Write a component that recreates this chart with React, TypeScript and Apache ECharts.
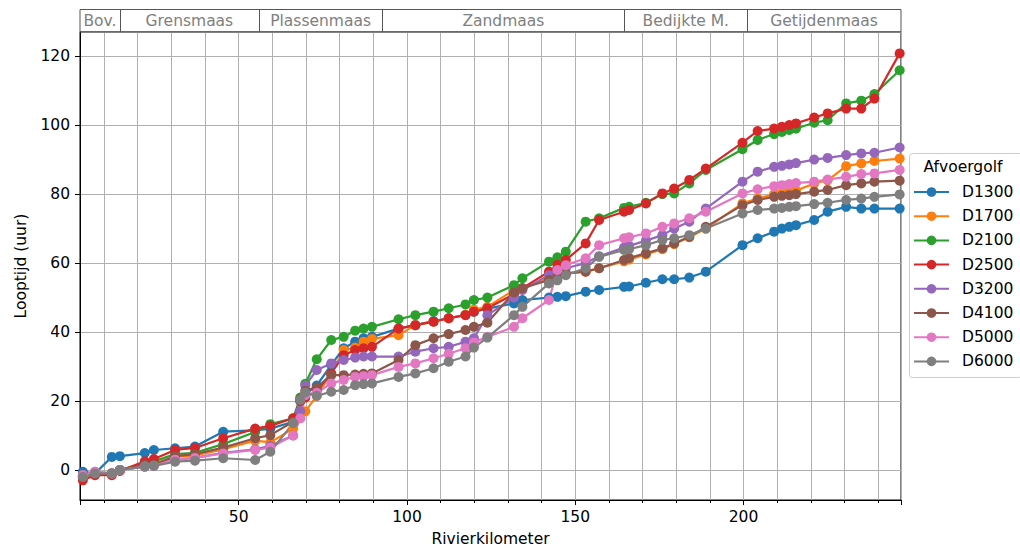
import React, { useEffect, useRef } from "react";
import * as echarts from "echarts";

const FONT = "DejaVu Sans";

// river kilometre of each measuring point (shared by all series)
const km = [
  3.7, 7.3, 12.3, 14.7, 22.1, 24.8, 31.1, 37.0, 45.4, 54.9, 59.4,
  66.2, 68.3, 69.8, 73.2,
  77.5, 81.2, 84.6, 87.1, 89.6,
  97.5, 102.5, 107.9, 112.4, 117.4, 119.9, 123.9,
  131.8, 134.3, 142.2, 144.7, 147.2,
  153.1, 157.1, 164.5, 166.0, 171.0, 175.9, 179.4, 183.9, 188.8,
  199.7, 204.2, 209.1, 211.4, 213.6, 215.6, 221.0, 225.0, 230.5, 235.0, 238.9, 246.4,
];

const seriesNames = ["D1300", "D1700", "D2100", "D2500", "D3200", "D4100", "D5000", "D6000"];
const colors = ["#1f77b4", "#ff7f0e", "#2ca02c", "#d62728", "#9467bd", "#8c564b", "#e377c2", "#7f7f7f"];

const d1300 = [
  -0.5, -1, 3.8, 4, 4.9, 5.8, 6.3, 6.8, 11.1, 11.5, 12,
  14, 20, 22, 24.5,
  30.5, 35.3, 37.2, 38.2, 38.6,
  41, 42, 43.2, 44, 45, 45.9, 46.8,
  48.3, 49.3, 50, 50.2, 50.4,
  51.7, 52.2, 53.1, 53.2, 54.3, 55.3, 55.3, 55.8, 57.5,
  65.2, 67.2, 69.1, 70, 70.5, 71, 72.5, 74.9, 76.3, 75.8, 75.8, 75.8,
];
const d1700 = [
  -1.5, -1, -1, 0, 1.5, 1.8, 3.8, 4.2, 6, 8.5, 8,
  12, 15, 17, 21.5,
  28, 34.8, 35.5, 37.2, 38,
  39.1, 42, 43, 44, 45, 46.5, 47.3,
  52.2, 52.7, 55.6, 56.5, 57,
  57.5, 58.5, 60.5, 61, 62.5, 64, 65.5, 67.5, 70,
  77.3, 78.7, 80, 80.3, 80.7, 81, 83.1, 84, 88.1, 88.9, 89.6, 90.3,
];
const d2100 = [
  -2, -1, -1, 0, 2, 2.5, 4.6, 5, 7.5, 11, 13.3,
  15, 21, 25, 32.1,
  37.7, 38.6, 40.4, 41, 41.5,
  43.7, 44.9, 45.9, 46.9, 48, 49.3, 50,
  53.6, 55.6, 60.4, 61.7, 63.3,
  72, 73, 76, 76.3, 77.5, 80, 80.2, 83.1, 87,
  93, 95.7, 97.4, 98, 98.6, 99, 100.7, 101.4, 106.3, 107.1, 109, 115.9,
];
const d2500 = [
  -3, -1.5, -1.5, -0.3, 2.5, 3.2, 5.8, 6.4, 9.2, 12, 12.8,
  15, 20, 21, 23,
  28, 33.3, 34.8, 35.3, 35.7,
  41, 42, 43, 44, 44.9, 45.9, 46.9,
  51, 52.7, 57.5, 59.5, 60.9,
  65.7, 72.5, 74.9, 75.4, 77.3, 80.2, 81.6, 84.1, 87.4,
  94.9, 98.3, 99, 99.5, 100, 100.5, 102.2, 103.4, 104.8, 104.8, 107.7, 120.8,
];
const d3200 = [
  -1.5, -0.5, -1, 0, 1, 1.2, 3, 3.5, 5, 6, 7,
  10, 17, 24.5, 29,
  30.9, 31.9, 32.6, 32.9, 32.9,
  32.9, 34.3, 35.3, 35.7, 37.2, 38.2, 44.9,
  50, 52.2, 56.5, 57.5, 58.5,
  60, 62, 64.5, 65, 66.5, 68.1, 70, 72, 75.8,
  83.6, 86.5, 87.9, 88.2, 88.6, 89, 90, 90.5, 91.3, 91.8, 92, 93.5,
];
const d4100 = [
  -2, -1, -1, 0, 1.5, 1.5, 4, 4.6, 6.5, 9.2, 10.1,
  14, 20.5, 23, 24,
  27.5, 27.5, 27.7, 27.9, 28,
  31.9, 36.2, 38.2, 39.4, 40.6, 41.5, 42.7,
  51.5, 52.7, 55.1, 56, 57,
  57.5, 58.5, 60.9, 61.5, 62.8, 64.3, 65.7, 67.6, 70.5,
  76.8, 78.3, 79.2, 79.5, 79.7, 80, 80.7, 81.2, 82.6, 83.1, 83.6, 83.9,
];
const d5000 = [
  -1.5, -0.5, -1, 0, 1, 1.2, 3, 3.5, 4.8, 5.8, 6.5,
  10, 15, 21.7, 22.4,
  25.1, 26.1, 27, 27.2, 27.5,
  29.9, 30.9, 32.4, 33.7, 35.3, 37, 38.6,
  41.5, 44, 49.3, 58, 59.4,
  61.4, 65.2, 67.2, 67.5, 68.6, 70.5, 71.5, 73, 74.9,
  80.2, 81.4, 82.3, 82.6, 82.9, 83.2, 83.6, 84.2, 85, 85.8, 86, 87,
];
const d6000 = [
  -2, -1, -1, 0, 1, 1.2, 2.4, 2.7, 3.4, 2.9, 5.3,
  13.6, 20.3, 22.5, 21.5,
  22.7, 23.2, 24.6, 24.9, 25.1,
  27, 28, 29.5, 31.4, 32.9, 35.5, 38.4,
  44.9, 47.3, 54.1, 55, 56.5,
  58.5, 61.8, 63.8, 64, 65.2, 66.7, 67.2, 68.1, 70,
  74.4, 75.4, 75.8, 76, 76.3, 76.5, 77.1, 77.5, 78.3, 78.7, 79.2, 79.9,
];
const seriesValues = [d1300, d1700, d2100, d2500, d3200, d4100, d5000, d6000];

// river sections shown in the band above the plot
const sectionNames = ["Bov.", "Grensmaas", "Plassenmaas", "Zandmaas", "Bedijkte M.", "Getijdenmaas"];
const sectionEdges = [2.85, 14.7, 56.0, 92.7, 164.6, 201.1, 246.8];

const xMin = 2.85;
const xMax = 246.8;
const yMin = -8.7;
const yMax = 127;

export default function App() {
  const ref = useRef<HTMLDivElement>(null);

  useEffect(() => {
    if (!ref.current) return;
    const chart = echarts.init(ref.current, null, { renderer: "svg" });
    const fs = 15.5;
    const option: any = {
      animation: false,
      textStyle: { fontFamily: FONT },
      grid: {
        left: 80,
        top: 32,
        width: 821,
        height: 468,
        show: true,
        borderColor: "#000",
        borderWidth: 1,
        backgroundColor: "transparent",
      },
      xAxis: {
        type: "value",
        min: xMin,
        max: xMax,
        splitNumber: 5,
        minInterval: 50,
        maxInterval: 50,
        name: "Rivierkilometer",
        nameLocation: "middle",
        nameGap: 31,
        nameTextStyle: { fontSize: fs, color: "#000", fontFamily: FONT },
        axisLine: { show: true, onZero: false, lineStyle: { color: "#000" } },
        axisTick: { show: true, inside: false, length: 5, lineStyle: { color: "#000" } },
        minorTick: { show: true, splitNumber: 5, length: 3, lineStyle: { color: "#000" } },
        axisLabel: {
          fontSize: fs,
          color: "#000",
          margin: 9,
          fontFamily: FONT,
          showMinLabel: false,
          showMaxLabel: false,
        },
        splitLine: { show: true, lineStyle: { color: "#b0b0b0", width: 1 } },
        minorSplitLine: { show: true, lineStyle: { color: "#b0b0b0", width: 1 } },
      },
      yAxis: {
        type: "value",
        min: yMin,
        max: yMax,
        splitNumber: 6,
        minInterval: 20,
        maxInterval: 20,
        name: "Looptijd (uur)",
        nameLocation: "middle",
        nameGap: 51,
        nameTextStyle: { fontSize: fs, color: "#000", fontFamily: FONT },
        axisLine: { show: true, onZero: false, lineStyle: { color: "#000" } },
        axisTick: { show: true, inside: false, length: 5, lineStyle: { color: "#000" } },
        axisLabel: {
          fontSize: fs,
          color: "#000",
          margin: 10,
          fontFamily: FONT,
          showMinLabel: false,
          showMaxLabel: false,
        },
        splitLine: { show: true, lineStyle: { color: "#b0b0b0", width: 1 } },
      },
      legend: {
        orient: "vertical",
        left: 913,
        top: 183,
        itemWidth: 35,
        itemHeight: 12,
        itemGap: 6.2,
        padding: 0,
        textStyle: { fontSize: fs, color: "#000", fontFamily: FONT, lineHeight: 18, padding: [0, 0, 0, 8] },
        data: seriesNames,
      },
      series: seriesNames.map((name, i) => ({
        name,
        type: "line",
        data: km.map((k, j) => [k, seriesValues[i][j]]),
        symbol: "circle",
        symbolSize: 10,
        showSymbol: true,
        color: colors[i],
        itemStyle: { color: colors[i] },
        lineStyle: { color: colors[i], width: 2.2 },
        emphasis: { disabled: true },
        clip: true,
      })),
    };
    chart.setOption(option);

    const px = (v: number) => chart.convertToPixel({ xAxisIndex: 0 }, v) as number;
    const bandTop = 9;
    const bandBottom = 32;
    const left = px(sectionEdges[0]);
    const right = px(sectionEdges[sectionEdges.length - 1]);
    const graphic: any[] = [
      {
        type: "rect",
        z: 1,
        shape: { x: 909.5, y: 153.5, width: 112, height: 224, r: 3 },
        style: { fill: "rgba(255,255,255,0.85)", stroke: "#cccccc", lineWidth: 1 },
      },
      {
        type: "text",
        z: 5,
        x: 963,
        y: 167,
        style: {
          text: "Afvoergolf",
          fontSize: fs,
          fontFamily: FONT,
          fill: "#000",
          textAlign: "center",
          textVerticalAlign: "middle",
        },
      },
      {
        type: "rect",
        z: 1,
        shape: { x: left, y: bandTop + 0.5, width: right - left, height: bandBottom - bandTop - 0.5 },
        style: { fill: "none", stroke: "#555", lineWidth: 1 },
      },
    ];
    for (let i = 1; i < sectionEdges.length - 1; i++) {
      const x = Math.round(px(sectionEdges[i])) + 0.5;
      graphic.push({
        type: "line",
        z: 1,
        shape: { x1: x, y1: bandTop, x2: x, y2: bandBottom },
        style: { stroke: "#555", lineWidth: 1 },
      });
    }
    sectionNames.forEach((name, i) => {
      const cx = (px(sectionEdges[i]) + px(sectionEdges[i + 1])) / 2;
      graphic.push({
        type: "text",
        z: 2,
        x: cx,
        y: (bandTop + bandBottom) / 2 + 0.5,
        style: {
          text: name,
          fontSize: fs,
          fontFamily: FONT,
          fill: "#808080",
          textAlign: "center",
          textVerticalAlign: "middle",
        },
      });
    });
    chart.setOption({ graphic });

    return () => chart.dispose();
  }, []);

  return (
    <div
      ref={ref}
      style={{ position: "fixed", left: 0, top: 0, width: 1020, height: 556, background: "#fff" }}
    />
  );
}
